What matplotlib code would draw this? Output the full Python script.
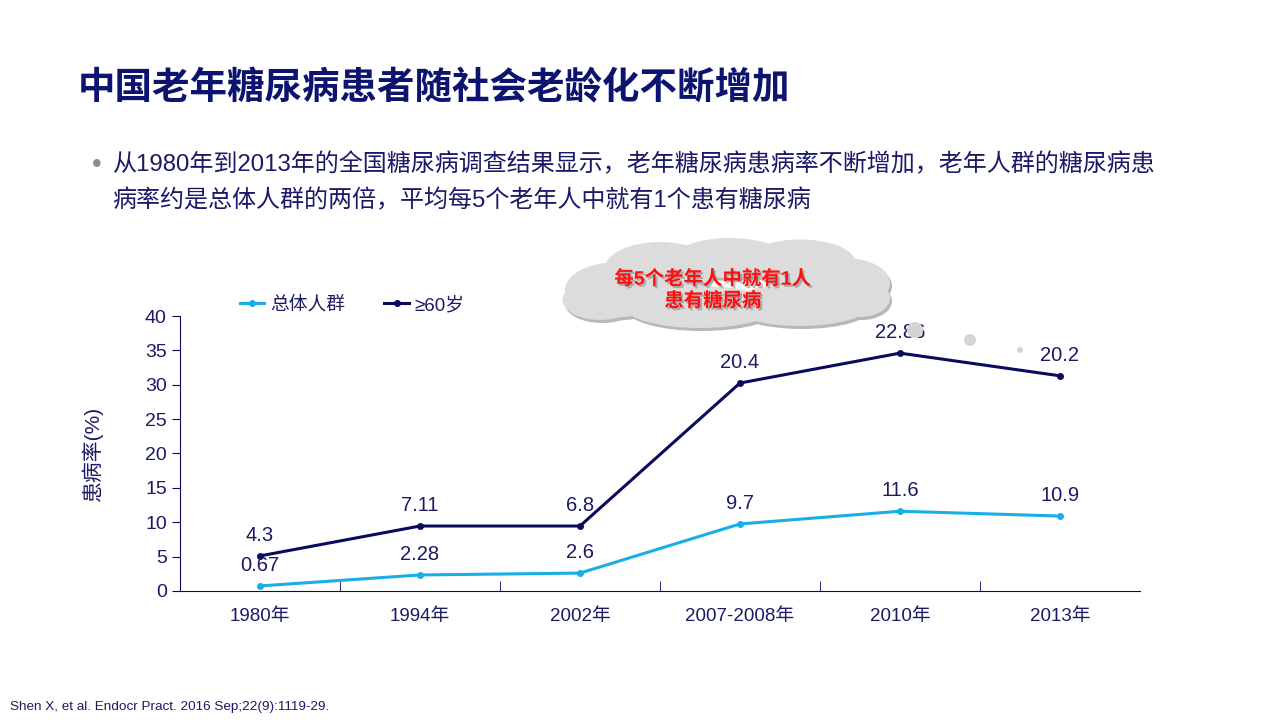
import matplotlib
matplotlib.use('Agg')
import matplotlib.pyplot as plt
from matplotlib.patches import Ellipse
import matplotlib.patheffects as pe

plt.rcParams['font.family'] = ['Liberation Sans', 'Noto Sans CJK SC', 'DejaVu Sans']

years = ['1980年', '1994年', '2002年', '2007-2008年', '2010年', '2013年']
total = [0.73, 2.33, 2.6, 9.75, 11.6, 10.9]
total_labels = ['0.67', '2.28', '2.6', '9.7', '11.6', '10.9']
elder = [5.1, 9.45, 9.45, 30.25, 34.6, 31.3]
elder_labels = ['4.3', '7.11', '6.8', '20.4', '22.86', '20.2']

navy = '#0b0b5e'
light = '#1aaee6'
text_navy = '#1a1a66'

fig = plt.figure(figsize=(12.8, 7.2), dpi=100)

fig.text(0.061, 0.878, '中国老年糖尿病患者随社会老龄化不断增加', fontsize=27,
         fontweight='bold', color='#0d1470', va='center',
         family=['Noto Sans CJK SC', 'DejaVu Sans'])
fig.text(0.072, 0.771, '•', fontsize=20, color='#8c8c8c', va='center')
fig.text(0.088, 0.771, '从1980年到2013年的全国糖尿病调查结果显示，老年糖尿病患病率不断增加，老年人群的糖尿病患',
         fontsize=17.3, color=text_navy, va='center')
fig.text(0.088, 0.722, '病率约是总体人群的两倍，平均每5个老年人中就有1个患有糖尿病',
         fontsize=17.3, color=text_navy, va='center')
fig.text(0.008, 0.018, 'Shen X, et al. Endocr Pract. 2016 Sep;22(9):1119-29.',
         fontsize=9.7, color=text_navy, va='center')

ax = fig.add_axes([0.1406, 0.1792, 0.75, 0.3819])
x = list(range(len(years)))
ax.plot(x, total, color=light, lw=2.2, marker='o', ms=4, label='总体人群', zorder=3)
ax.plot(x, elder, color=navy, lw=2.2, marker='o', ms=4, label='≥60岁', zorder=3)

for i in x:
    ax.annotate(total_labels[i], (i, total[i]), xytext=(0, 8), textcoords='offset points',
                ha='center', va='bottom', fontsize=14.5, color=text_navy)
    ax.annotate(elder_labels[i], (i, elder[i]), xytext=(0, 8), textcoords='offset points',
                ha='center', va='bottom', fontsize=14.5, color=text_navy)

ax.set_xlim(-0.5, 5.5)
ax.set_ylim(0, 40)
ax.set_yticks(range(0, 41, 5))
ax.set_xticks(x)
ax.set_xticklabels(years)
ax.set_xticks([i + 0.5 for i in range(5)], minor=True)
ax.tick_params(axis='x', which='major', length=0, pad=12, labelsize=13.5, labelcolor=text_navy)
ax.tick_params(axis='x', which='minor', direction='in', length=7, color=navy)
ax.tick_params(axis='y', direction='out', length=6, color=navy, labelsize=14, labelcolor=text_navy)
for s in ['top', 'right']:
    ax.spines[s].set_visible(False)
for s in ['left', 'bottom']:
    ax.spines[s].set_color(navy)
ax.set_ylabel('患病率(%)', fontsize=15, color=text_navy, labelpad=30)

ax.legend(ncol=2, frameon=False, loc='center left', bbox_to_anchor=(0.045, 1.04),
          fontsize=13.5, handlelength=1.3, columnspacing=2.1, handletextpad=0.3,
          labelcolor=text_navy)

# thought cloud
W, H = 1280, 720
def fx(px):
    return px / W
def fy(py):
    return 1 - py / H

blobs = [(615, 290, 100, 55), (660, 268, 110, 52), (730, 258, 110, 40), (800, 262, 110, 45),
         (845, 283, 90, 50), (700, 307, 150, 42), (800, 305, 140, 42), (600, 300, 75, 40),
         (860, 298, 60, 38)]
for bx, by, bw, bh in blobs:
    fig.patches.append(Ellipse((fx(bx + 2), fy(by + 3)), bw / W, bh / H, transform=fig.transFigure,
                               facecolor='#b8b8b8', edgecolor='none', zorder=4))
for bx, by, bw, bh in blobs:
    fig.patches.append(Ellipse((fx(bx), fy(by)), bw / W, bh / H, transform=fig.transFigure,
                               facecolor='#dcdcdc', edgecolor='none', zorder=5))
for cx, cy, r in [(915, 330, 8), (970, 340, 6), (1020, 350, 3)]:
    fig.patches.append(Ellipse((fx(cx), fy(cy)), 2 * r / W, 2 * r / H, transform=fig.transFigure,
                               facecolor='#d4d4d4', edgecolor='none', zorder=5))

shadow = [pe.withSimplePatchShadow(offset=(1.5, -1.5), shadow_rgbFace='#888888', alpha=0.6)]
fig.text(fx(713), fy(279), '每5个老年人中就有1人', fontsize=14, fontweight='bold', color='#ff1010',
         ha='center', va='center', zorder=6, path_effects=shadow)
fig.text(fx(713), fy(301), '患有糖尿病', fontsize=14, fontweight='bold', color='#ff1010',
         ha='center', va='center', zorder=6, path_effects=shadow)

fig.savefig('out.png', dpi=100)
